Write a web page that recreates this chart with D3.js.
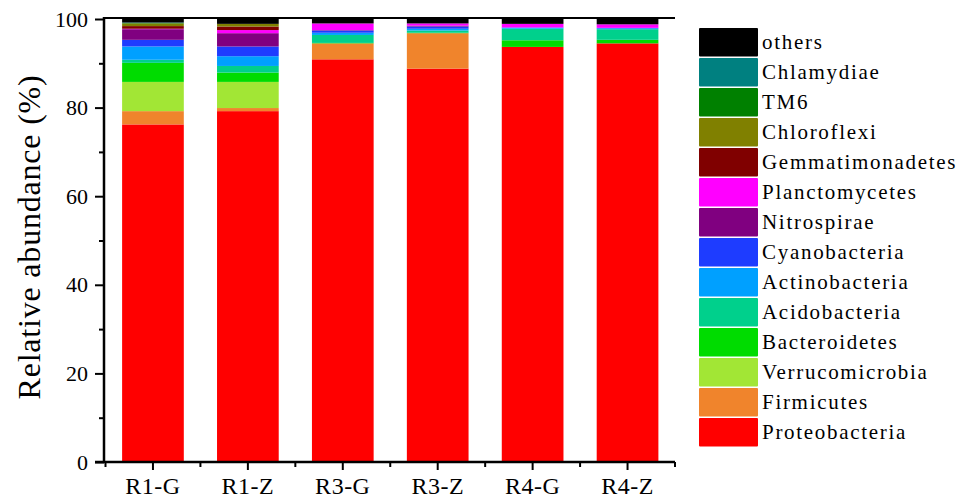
<!DOCTYPE html>
<html>
<head>
<meta charset="utf-8">
<script src="https://cdn.jsdelivr.net/npm/d3@7"></script>
<style>
  body { margin: 0; background: #fff; }
  svg { display: block; font-family: "Liberation Serif", "Times New Roman", serif; }
</style>
</head>
<body>
<div id="chart"></div>
<script>
// --- Data ---
const samples = ["R1-G", "R1-Z", "R3-G", "R3-Z", "R4-G", "R4-Z"];

// stacking order, bottom -> top
const phyla = ["Proteobacteria", "Firmicutes", "Verrucomicrobia", "Bacteroidetes", "Acidobacteria",
  "Actinobacteria", "Cyanobacteria", "Nitrospirae", "Planctomycetes", "Gemmatimonadetes",
  "Chloroflexi", "TM6", "Chlamydiae", "others"];

const phylaColors = ["#ff0000", "#f0842c", "#a2e635", "#00dc00", "#00d08c",
  "#00a0ff", "#1e3cff", "#800080", "#ff00ff", "#800000",
  "#808000", "#008000", "#008080", "#000000"];

// relative abundance (%) per sample, same order as phyla
const r1g = [76.2, 3.0, 6.6, 4.3, 0.7, 3.0, 1.5, 2.4, 0.1, 0.6, 0.6, 0.1, 0.1, 0.8];
const r1z = [79.2, 0.7, 5.9, 2.1, 1.5, 2.2, 2.2, 3.0, 0.7, 0.8, 0.6, 0.0, 0.0, 1.1];
const r3g = [90.9, 3.6, 0.0, 0.1, 1.8, 0.5, 0.5, 0.1, 1.5, 0.0, 0.0, 0.0, 0.0, 1.0];
const r3z = [88.8, 8.0, 0.0, 0.1, 0.5, 0.4, 0.5, 0.2, 0.5, 0.0, 0.0, 0.0, 0.0, 1.0];
const r4g = [93.7, 0.0, 0.0, 1.5, 2.6, 0.2, 0.1, 0.0, 0.8, 0.0, 0.0, 0.0, 0.0, 1.1];
const r4z = [94.5, 0.0, 0.0, 0.8, 2.4, 0.2, 0.1, 0.0, 0.8, 0.0, 0.0, 0.0, 0.0, 1.2];

const yMajorTicks = [0, 20, 40, 60, 80, 100];
const yMinorTicks = [10, 30, 50, 70, 90];

// build table for d3.stack
const sampleValues = [r1g, r1z, r3g, r3z, r4g, r4z];
const table = samples.map((s, i) => {
  const row = { sample: s };
  phyla.forEach((p, j) => { row[p] = sampleValues[i][j]; });
  return row;
});

// --- Layout ---
const width = 960, height = 498;
const plot = { left: 104, right: 675, top: 19, bottom: 462 };

const svg = d3.select("#chart").append("svg")
  .attr("width", width)
  .attr("height", height);

const x = d3.scaleBand()
  .domain(samples)
  .range([plot.left + 1.5, plot.right])
  .paddingInner(0.35)
  .paddingOuter(0.175);

const y = d3.scaleLinear()
  .domain([0, 100])
  .range([plot.bottom, plot.top]);

const color = d3.scaleOrdinal().domain(phyla).range(phylaColors);

const series = d3.stack().keys(phyla)(table);

// Bars
svg.append("g").attr("class", "bars")
  .selectAll("g")
  .data(series)
  .join("g")
  .attr("fill", d => color(d.key))
  .selectAll("rect")
  .data(d => d)
  .join("rect")
  .attr("x", d => x(d.data.sample))
  .attr("width", x.bandwidth())
  .attr("y", d => y(Math.min(100, d[1])))
  .attr("height", d => Math.max(0, y(d[0]) - y(Math.min(100, d[1]))));

// Top frame line
svg.append("line")
  .attr("x1", plot.left).attr("x2", plot.right)
  .attr("y1", plot.top - 1).attr("y2", plot.top - 1)
  .attr("stroke", "#000").attr("stroke-width", 2);

// Y axis
const yAxis = svg.append("g")
  .attr("transform", `translate(${plot.left},0)`)
  .call(d3.axisLeft(y).tickValues(yMajorTicks).tickSize(9).tickPadding(7).tickFormat(d3.format("d")));
svg.append("g")
  .attr("transform", `translate(${plot.left},0)`)
  .call(d3.axisLeft(y).tickValues(yMinorTicks).tickSize(5).tickFormat(""))
  .select(".domain").remove();

// X axis
const xAxis = svg.append("g")
  .attr("transform", `translate(0,${plot.bottom})`)
  .call(d3.axisBottom(x).tickSize(8).tickPadding(7));

// minor ticks between categories
const step = x.step();
const boundaries = samples.map(s => x(s) + x.bandwidth() / 2 - step / 2).concat([plot.right]);
svg.append("g").selectAll("line")
  .data(boundaries)
  .join("line")
  .attr("x1", d => d).attr("x2", d => d)
  .attr("y1", plot.bottom).attr("y2", plot.bottom + 5)
  .attr("stroke", "#000").attr("stroke-width", 2);

[yAxis, xAxis].forEach(g => {
  g.select(".domain").attr("stroke-width", 2.5);
  g.selectAll(".tick text")
    .attr("font-family", "Liberation Serif, serif")
    .attr("fill", "#000");
});
svg.selectAll("g .tick line").attr("stroke-width", 2);
yAxis.selectAll(".tick text").attr("font-size", 22);
xAxis.selectAll(".tick text").attr("font-size", 24).attr("letter-spacing", 0.5);
xAxis.select(".domain").attr("d", `M${plot.left - 9},0H${plot.right}`);
yAxis.select(".domain").attr("d", `M0,${plot.bottom}V${plot.top - 2}`);

// Y axis title
svg.append("text")
  .attr("transform", `translate(40,237) rotate(-90)`)
  .attr("text-anchor", "middle")
  .attr("font-size", 32)
  .attr("letter-spacing", 0.8)
  .text("Relative abundance (%)");

// Legend (others on top -> Proteobacteria at bottom)
const legendOrder = phyla.slice().reverse();
const legend = svg.append("g").attr("transform", "translate(699,28)");
const item = legend.selectAll("g")
  .data(legendOrder)
  .join("g")
  .attr("transform", (d, i) => `translate(0,${i * 30})`);

item.append("rect")
  .attr("width", 59)
  .attr("height", 28.5)
  .attr("rx", 1)
  .attr("fill", d => color(d));

item.append("text")
  .attr("x", 63)
  .attr("y", 13.5)
  .attr("dy", "0.35em")
  .attr("font-size", 21)
  .attr("letter-spacing", 1.7)
  .text(d => d);
</script>
</body>
</html>
